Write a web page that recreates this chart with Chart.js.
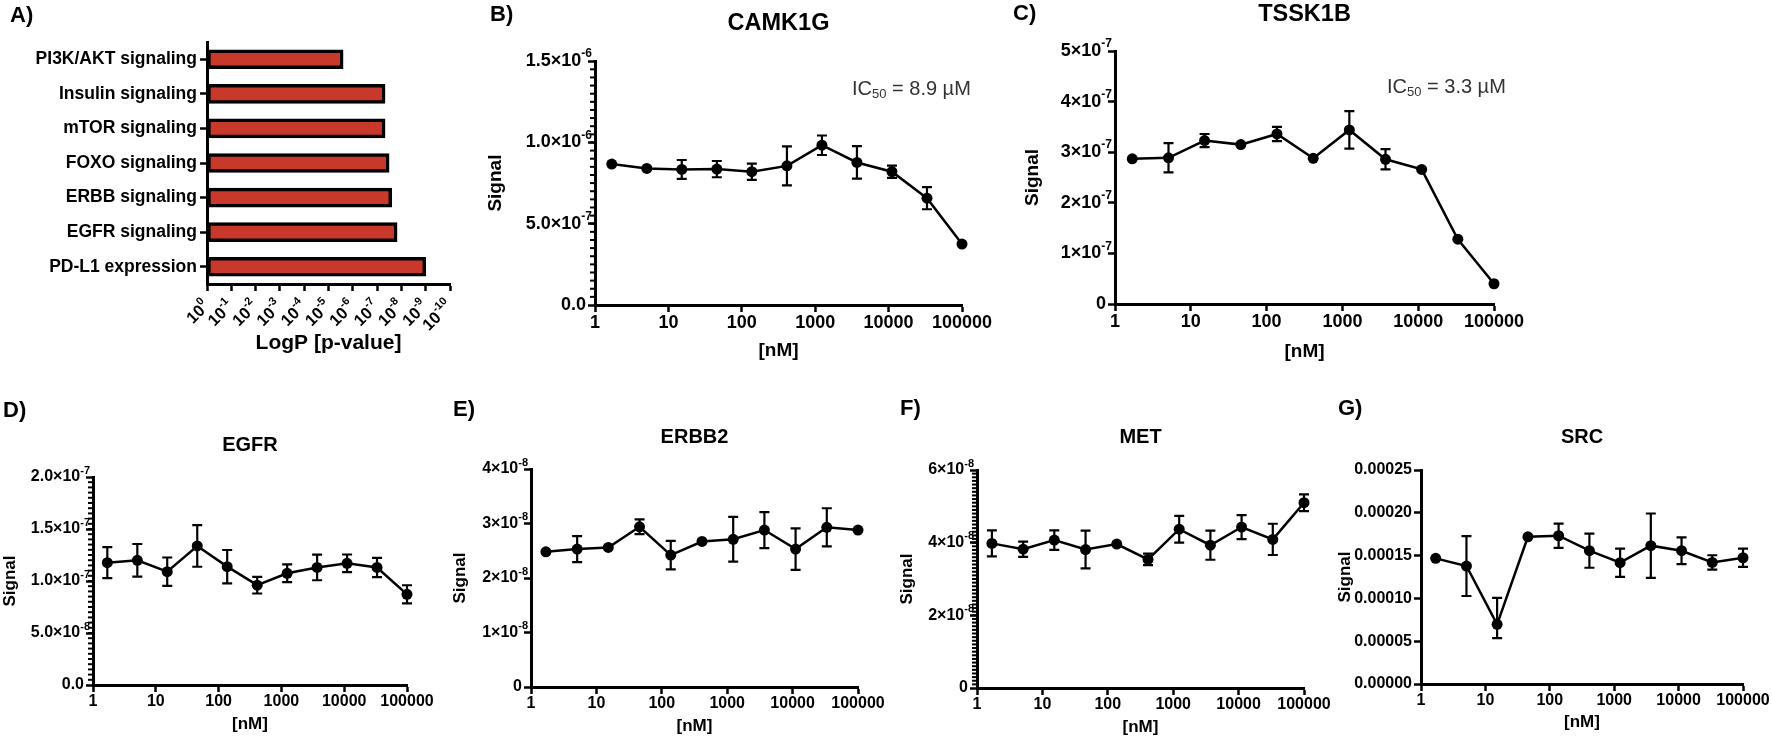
<!DOCTYPE html>
<html>
<head>
<meta charset="utf-8">
<script src="https://cdn.jsdelivr.net/npm/chart.js@4.4.1/dist/chart.umd.min.js"></script>
<style>
  body { margin: 0; background: #fff; }
  #figure { position: relative; width: 1772px; height: 740px; overflow: hidden; background: #fff; }
  canvas { position: absolute; }
  .tag { position: absolute; font: bold 22px 'Liberation Sans', Arial, sans-serif; line-height: 22px; color: #000; }
  .ic50 { position: absolute; font: 20px 'Liberation Sans', Arial, sans-serif; line-height: 22px; color: #333; white-space: nowrap; }
  .ic50 sub { font-size: 13px; vertical-align: -3px; line-height: 0; }
</style>
</head>
<body>
<div id="figure">
  <canvas id="chartA" width="464" height="356" style="left:0;top:0"></canvas>
  <canvas id="chartB" width="513" height="362" style="left:484px;top:0"></canvas>
  <canvas id="chartC" width="508" height="363" style="left:1021px;top:0"></canvas>
  <canvas id="chartD" width="437" height="335" style="left:0;top:400px"></canvas>
  <canvas id="chartE" width="438" height="337" style="left:450px;top:400px"></canvas>
  <canvas id="chartF" width="437" height="338" style="left:897px;top:400px"></canvas>
  <canvas id="chartG" width="437" height="333" style="left:1335px;top:400px"></canvas>

  <div class="tag" style="left:10px;top:4px">A)</div>
  <div class="tag" style="left:490px;top:3px">B)</div>
  <div class="tag" style="left:1013px;top:2px">C)</div>
  <div class="tag" style="left:3px;top:399px">D)</div>
  <div class="tag" style="left:453px;top:398px">E)</div>
  <div class="tag" style="left:900px;top:397px">F)</div>
  <div class="tag" style="left:1338px;top:397px">G)</div>

  <div class="ic50" style="left:852px;top:77px">IC<sub>50</sub> = 8.9 µM</div>
  <div class="ic50" style="left:1387px;top:75px">IC<sub>50</sub> = 3.3 µM</div>
</div>
<script>
const FONT = "'Liberation Sans', Arial, Helvetica, sans-serif";
Chart.defaults.font.family = FONT;
Chart.defaults.font.weight = 'bold';
Chart.defaults.color = '#000';
Chart.defaults.animation = false;

// A) pathway enrichment
const pathways = ['PI3K/AKT signaling', 'Insulin signaling', 'mTOR signaling', 'FOXO signaling',
                  'ERBB signaling', 'EGFR signaling', 'PD-L1 expression'];
const pathwayP = [2.5e-6, 4.7e-8, 4.7e-8, 3.2e-8, 2.5e-8, 1.5e-8, 1.0e-9];
const pTicks = [1, 1e-1, 1e-2, 1e-3, 1e-4, 1e-5, 1e-6, 1e-7, 1e-8, 1e-9, 1e-10];
const pTickLabels = ['10⁰', '10⁻¹', '10⁻²', '10⁻³', '10⁻⁴', '10⁻⁵', '10⁻⁶', '10⁻⁷', '10⁻⁸', '10⁻⁹', '10⁻¹⁰'];

// dose series, nM (3-fold dilution)
const concNM = [1.69, 5.08, 15.2, 45.7, 137, 412, 1235, 3704, 11111, 33333, 100000];
const concTicks = [1, 10, 100, 1000, 10000, 100000];

// B) CAMK1G
const camk1gSignal = [8.67e-7, 8.40e-7, 8.34e-7, 8.36e-7, 8.20e-7, 8.56e-7, 9.83e-7, 8.77e-7, 8.20e-7, 6.57e-7, 3.75e-7];
const camk1gSem = [0, 0, 5.8e-8, 5.0e-8, 5.0e-8, 1.2e-7, 6.0e-8, 1.0e-7, 3.8e-8, 6.8e-8, 0];
const camk1gTicks = [0, 5e-7, 1e-6, 1.5e-6];
const camk1gTickLabels = ['0.0', '5.0×10⁻⁷', '1.0×10⁻⁶', '1.5×10⁻⁶'];

// C) TSSK1B
const tssk1bSignal = [2.87e-7, 2.89e-7, 3.23e-7, 3.15e-7, 3.36e-7, 2.88e-7, 3.44e-7, 2.86e-7, 2.66e-7, 1.28e-7, 0.40e-7];
const tssk1bSem = [0, 2.9e-8, 1.3e-8, 0, 1.4e-8, 0, 3.7e-8, 2.0e-8, 0, 0, 0];
const tssk1bTicks = [0, 1e-7, 2e-7, 3e-7, 4e-7, 5e-7];
const tssk1bTickLabels = ['0', '1×10⁻⁷', '2×10⁻⁷', '3×10⁻⁷', '4×10⁻⁷', '5×10⁻⁷'];

// D) EGFR
const egfrSignal = [1.176e-7, 1.199e-7, 1.09e-7, 1.337e-7, 1.138e-7, 0.96e-7, 1.074e-7, 1.13e-7, 1.17e-7, 1.13e-7, 0.872e-7];
const egfrSem = [1.49e-8, 1.57e-8, 1.36e-8, 2.0e-8, 1.6e-8, 0.8e-8, 0.85e-8, 1.23e-8, 0.85e-8, 0.93e-8, 0.87e-8];
const egfrTicks = [0, 5e-8, 1e-7, 1.5e-7, 2e-7];
const egfrTickLabels = ['0.0', '5.0×10⁻⁸', '1.0×10⁻⁷', '1.5×10⁻⁷', '2.0×10⁻⁷'];

// E) ERBB2
const erbb2Signal = [2.48e-8, 2.53e-8, 2.56e-8, 2.94e-8, 2.42e-8, 2.67e-8, 2.71e-8, 2.88e-8, 2.53e-8, 2.93e-8, 2.88e-8];
const erbb2Sem = [0, 2.4e-9, 0, 1.35e-9, 2.6e-9, 0, 4.1e-9, 3.3e-9, 3.8e-9, 3.5e-9, 0];
const erbb2Ticks = [0, 1e-8, 2e-8, 3e-8, 4e-8];
const erbb2TickLabels = ['0', '1×10⁻⁸', '2×10⁻⁸', '3×10⁻⁸', '4×10⁻⁸'];

// F) MET
const metSignal = [3.98e-8, 3.82e-8, 4.07e-8, 3.81e-8, 3.96e-8, 3.54e-8, 4.37e-8, 3.93e-8, 4.43e-8, 4.09e-8, 5.10e-8];
const metSem = [3.6e-9, 2.1e-9, 2.7e-9, 5.2e-9, 0, 1.6e-9, 3.7e-9, 4.0e-9, 3.3e-9, 4.3e-9, 2.3e-9];
const metTicks = [0, 2e-8, 4e-8, 6e-8];
const metTickLabels = ['0', '2×10⁻⁸', '4×10⁻⁸', '6×10⁻⁸'];

// G) SRC
const srcSignal = [1.468e-4, 1.378e-4, 0.697e-4, 1.72e-4, 1.732e-4, 1.557e-4, 1.417e-4, 1.616e-4, 1.557e-4, 1.42e-4, 1.475e-4];
const srcSemUp = [0, 3.5e-5, 3.1e-5, 0, 1.42e-5, 1.99e-5, 1.65e-5, 3.76e-5, 1.56e-5, 0.84e-5, 1.07e-5];
const srcSemDown = [0, 3.5e-5, 1.6e-5, 0, 1.42e-5, 1.99e-5, 1.65e-5, 3.76e-5, 1.56e-5, 0.84e-5, 1.07e-5];
const srcTicks = [0, 5e-5, 1e-4, 1.5e-4, 2e-4, 2.5e-4];
const srcTickLabels = ['0.00000', '0.00005', '0.00010', '0.00015', '0.00020', '0.00025'];

// superscript handling for "×10⁻⁷" style labels
const SUP = { '⁰': '0', '¹': '1', '²': '2', '³': '3', '⁴': '4', '⁵': '5', '⁶': '6', '⁷': '7', '⁸': '8', '⁹': '9', '⁻': '-' };
function splitSup(label) {
  let i = label.length;
  while (i > 0 && SUP[label[i - 1]]) i--;
  return [label.slice(0, i), label.slice(i).split('').map(c => SUP[c]).join('')];
}
// right-aligned at (x, y), y = vertical middle of the base text
function drawSupLabel(ctx, label, x, y, size) {
  const [base, sup] = splitSup(label);
  const ss = Math.round(size * 0.68);
  ctx.textBaseline = 'middle';
  ctx.textAlign = 'left';
  ctx.font = 'bold ' + ss + 'px ' + FONT;
  const sw = sup ? ctx.measureText(sup).width : 0;
  if (sup) ctx.fillText(sup, x - sw, y - size * 0.4);
  ctx.font = 'bold ' + size + 'px ' + FONT;
  const bw = ctx.measureText(base).width;
  ctx.fillText(base, x - sw - bw, y);
}

const supTicks = {
  id: 'supTicks',
  afterDraw(chart, args, opts) {
    if (!opts || !opts.labels) return;
    const ctx = chart.ctx, area = chart.chartArea;
    ctx.save();
    ctx.fillStyle = '#000';
    if (opts.rotated) {
      const sc = chart.scales.x;
      opts.values.forEach((v, i) => {
        const px = sc.getPixelForValue(v);
        ctx.save();
        ctx.translate(px, area.bottom + 20);
        ctx.rotate(-Math.PI / 4);
        drawSupLabel(ctx, opts.labels[i], 0, 0, opts.size);
        ctx.restore();
      });
    } else {
      const sc = chart.scales.y;
      opts.values.forEach((v, i) => {
        const py = sc.getPixelForValue(v);
        const hasSup = splitSup(opts.labels[i])[1].length > 0;
        drawSupLabel(ctx, opts.labels[i], area.left - (hasSup ? 3 : 9), py, opts.size);
      });
    }
    ctx.restore();
  }
};

// vertical SEM bars with caps, drawn under the markers
const errorBars = {
  id: 'errorBars',
  beforeDatasetsDraw(chart) {
    const { ctx, scales: { x, y } } = chart;
    chart.data.datasets.forEach(ds => {
      if (!ds.errUp) return;
      ctx.save();
      ctx.strokeStyle = '#000';
      ctx.lineWidth = 2.2;
      ds.data.forEach((pt, i) => {
        const up = ds.errUp[i], down = ds.errDown[i];
        if (!up && !down) return;
        const px = x.getPixelForValue(pt.x);
        const top = y.getPixelForValue(pt.y + up);
        const bot = y.getPixelForValue(pt.y - down);
        ctx.beginPath();
        ctx.moveTo(px, top); ctx.lineTo(px, bot);
        ctx.moveTo(px - 5, top); ctx.lineTo(px + 5, top);
        ctx.moveTo(px - 5, bot); ctx.lineTo(px + 5, bot);
        ctx.stroke();
      });
      ctx.restore();
    });
  }
};

// short minor ticks on the y axis (Prism style)
const minorTicks = {
  id: 'minorTicks',
  afterDraw(chart, args, opts) {
    if (!opts || !opts.step) return;
    const y = chart.scales.y, left = chart.chartArea.left, ctx = chart.ctx;
    const n = Math.round(y.max / opts.step);
    ctx.save();
    ctx.strokeStyle = '#000';
    ctx.lineWidth = 2;
    for (let k = 1; k < n; k++) {
      const py = y.getPixelForValue(k * opts.step);
      ctx.beginPath();
      ctx.moveTo(left - 5, py);
      ctx.lineTo(left, py);
      ctx.stroke();
    }
    ctx.restore();
  }
};

const tickGrid = { drawOnChartArea: false, tickLength: 7, tickWidth: 2.5, tickColor: '#000' };
const axisBorder = { width: 3, color: '#000' };

new Chart(document.getElementById('chartA'), {
  type: 'bar',
  data: {
    labels: pathways,
    datasets: [{
      data: pathwayP,
      base: 1,
      backgroundColor: '#c8392b',
      borderColor: '#000',
      borderWidth: 3.5,
      borderSkipped: false,
      barThickness: 19
    }]
  },
  options: {
    indexAxis: 'y',
    responsive: false,
    layout: { padding: { top: 42, right: 14, left: 0, bottom: 0 } },
    plugins: {
      legend: { display: false },
      tooltip: { enabled: false },
      supTicks: { values: pTicks, labels: pTickLabels, size: 16.5, rotated: true }
    },
    scales: {
      x: {
        type: 'logarithmic', reverse: true, min: 1e-10, max: 1,
        afterFit: s => { s.height = 72; },
        afterBuildTicks: s => { s.ticks = pTicks.map(v => ({ value: v })); },
        ticks: { display: false },
        grid: tickGrid,
        border: axisBorder,
        title: { display: true, text: 'LogP [p-value]', font: { size: 21 }, padding: 0 }
      },
      y: {
        offset: true,
        afterFit: s => { s.width = 207; },
        ticks: { padding: 3, font: { size: 17.5 } },
        grid: Object.assign({ offset: false }, tickGrid),
        border: axisBorder
      }
    }
  },
  plugins: [supTicks]
});

function doseChart(id, cfg) {
  return new Chart(document.getElementById(id), {
    type: 'line',
    data: {
      datasets: [{
        data: concNM.map((x, i) => ({ x: x, y: cfg.values[i] })),
        errUp: cfg.errUp,
        errDown: cfg.errDown,
        borderColor: '#000',
        borderWidth: 2.5,
        pointRadius: 5.5,
        pointBackgroundColor: '#000',
        pointBorderWidth: 0,
        tension: 0,
        clip: false
      }]
    },
    options: {
      responsive: false,
      layout: { padding: { top: 0, right: cfg.padRight, left: 0, bottom: 0 } },
      plugins: {
        legend: { display: false },
        tooltip: { enabled: false },
        title: { display: true, text: cfg.title, fullSize: false, color: '#000',
                 font: { size: cfg.titleSize }, padding: { top: cfg.titleTop, bottom: cfg.titleBottom } },
        minorTicks: { step: cfg.minor || 0 },
        supTicks: { values: cfg.ticks, labels: cfg.tickLabels, size: cfg.tickSize }
      },
      scales: {
        x: {
          type: 'logarithmic', min: 1, max: 100000,
          afterFit: s => { s.height = cfg.xHeight; },
          afterBuildTicks: s => { s.ticks = concTicks.map(v => ({ value: v })); },
          ticks: { autoSkip: false, maxRotation: 0, padding: 0, font: { size: cfg.tickSize },
                   callback: v => String(v) },
          grid: tickGrid,
          border: axisBorder,
          title: { display: true, text: '[nM]', font: { size: cfg.labelSize }, padding: 0 }
        },
        y: {
          min: 0, max: cfg.ticks[cfg.ticks.length - 1],
          afterFit: s => { s.width = cfg.yWidth; },
          afterBuildTicks: s => { s.ticks = cfg.ticks.map(v => ({ value: v })); },
          ticks: { display: false },
          grid: tickGrid,
          border: axisBorder,
          title: { display: true, text: 'Signal', font: { size: cfg.labelSize }, padding: 0 }
        }
      }
    },
    plugins: [errorBars, minorTicks, supTicks]
  });
}

doseChart('chartB', {
  title: 'CAMK1G', values: camk1gSignal, errUp: camk1gSem, errDown: camk1gSem,
  ticks: camk1gTicks, tickLabels: camk1gTickLabels, minor: 5e-8,
  titleSize: 23.5, titleTop: 9, titleBottom: 24, labelSize: 19, tickSize: 18,
  yWidth: 111, xHeight: 57, padRight: 35
});
doseChart('chartC', {
  title: 'TSSK1B', values: tssk1bSignal, errUp: tssk1bSem, errDown: tssk1bSem,
  ticks: tssk1bTicks, tickLabels: tssk1bTickLabels,
  titleSize: 23.5, titleTop: 0, titleBottom: 22.8, labelSize: 19, tickSize: 18,
  yWidth: 94, xHeight: 59, padRight: 35
});
doseChart('chartD', {
  title: 'EGFR', values: egfrSignal, errUp: egfrSem, errDown: egfrSem,
  ticks: egfrTicks, tickLabels: egfrTickLabels, minor: 5e-9,
  titleSize: 20, titleTop: 33, titleBottom: 20, labelSize: 17, tickSize: 16,
  yWidth: 93, xHeight: 50, padRight: 30
});
doseChart('chartE', {
  title: 'ERBB2', values: erbb2Signal, errUp: erbb2Sem, errDown: erbb2Sem,
  ticks: erbb2Ticks, tickLabels: erbb2TickLabels,
  titleSize: 20, titleTop: 25, titleBottom: 20, labelSize: 17, tickSize: 16,
  yWidth: 81, xHeight: 50, padRight: 30
});
doseChart('chartF', {
  title: 'MET', values: metSignal, errUp: metSem, errDown: metSem,
  ticks: metTicks, tickLabels: metTickLabels, minor: 1e-9,
  titleSize: 20, titleTop: 25, titleBottom: 21, labelSize: 17, tickSize: 16,
  yWidth: 80, xHeight: 50, padRight: 30
});
doseChart('chartG', {
  title: 'SRC', values: srcSignal, errUp: srcSemUp, errDown: srcSemDown,
  ticks: srcTicks, tickLabels: srcTickLabels,
  titleSize: 20, titleTop: 25, titleBottom: 21, labelSize: 17, tickSize: 16,
  yWidth: 86, xHeight: 49, padRight: 29
});
</script>
</body>
</html>
